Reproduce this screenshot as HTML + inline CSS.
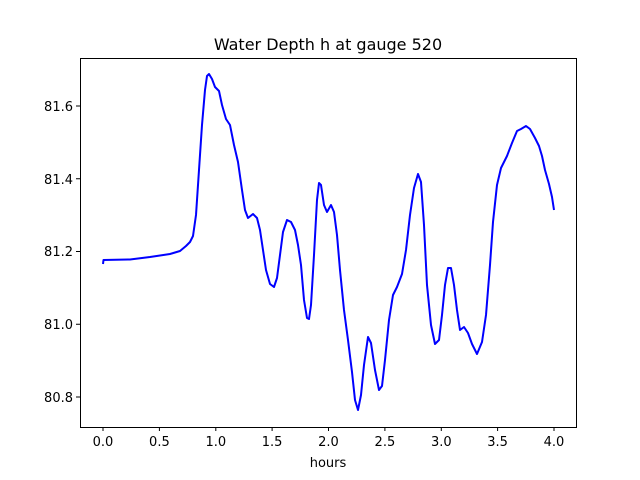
<!DOCTYPE html>
<html><head><meta charset="utf-8"><style>
html,body{margin:0;padding:0;background:#fff;}
svg{display:block;font-family:"DejaVu Sans","Liberation Sans",sans-serif;}
</style></head><body>
<svg width="640" height="480" viewBox="0 0 640 480" xmlns="http://www.w3.org/2000/svg">
<rect width="640" height="480" fill="#fff"/>
<text x="328" y="50" font-size="16" text-anchor="middle">Water Depth h at gauge 520</text>
<polyline fill="none" stroke="#0000ff" stroke-width="2" stroke-linejoin="round" points="103,264 103.5,260 130,259.5 150,257 170,254 180,251 186,246 190,242 193,236 196,215 199,170 202,125 205,90 207,76 209,74 212,79 215,87 219,91 222,105 226,119 230,125 234,145 238,162 242,190 245,210 248,218 253,214 257,218 260,230 263,250 266,270 270,284 274,287 277,278 280,255 283,232 287,220 291,222 295,230 298,245 301,265 304,300 307,318 309,319 311,305 314,255 317,200 319,183 321,185 324,205 327,212 331,205 334,212 337,235 340,270 344,310 348,340 352,372 355,400 358,410 361,395 364,365 368,337 371,343 375,370 379,390 382,386 385,360 389,320 393,295 397,287 402,274 406,250 410,215 414,188 418,174 421,182 424,225 427,285 431,325 435,344 439,340 442,315 445,285 448,268 451,268 454,285 457,310 460,330 464,327 468,333 472,344 477,354 482,342 486,315 490,265 493,222 497,185 501,168 507,156 512,143 517,131 521,129 526,126 530,129 535,138 539,146 542,156 545,170 549,184 552,197 554,210"/>
<rect x="80.5" y="58.5" width="496" height="369" fill="none" stroke="#000" stroke-width="1"/>
<g stroke="#000" stroke-width="1">
<line x1="103" y1="427" x2="103" y2="431"/>
<line x1="159.4" y1="427" x2="159.4" y2="431"/>
<line x1="215.8" y1="427" x2="215.8" y2="431"/>
<line x1="272.1" y1="427" x2="272.1" y2="431"/>
<line x1="328.5" y1="427" x2="328.5" y2="431"/>
<line x1="384.9" y1="427" x2="384.9" y2="431"/>
<line x1="441.3" y1="427" x2="441.3" y2="431"/>
<line x1="497.6" y1="427" x2="497.6" y2="431"/>
<line x1="554" y1="427" x2="554" y2="431"/>
<line x1="76" y1="397" x2="80" y2="397"/>
<line x1="76" y1="324.25" x2="80" y2="324.25"/>
<line x1="76" y1="251.5" x2="80" y2="251.5"/>
<line x1="76" y1="178.75" x2="80" y2="178.75"/>
<line x1="76" y1="106" x2="80" y2="106"/>
</g>
<g font-size="13" text-anchor="middle">
<text x="103" y="446">0.0</text>
<text x="159.4" y="446">0.5</text>
<text x="215.8" y="446">1.0</text>
<text x="272.1" y="446">1.5</text>
<text x="328.5" y="446">2.0</text>
<text x="384.9" y="446">2.5</text>
<text x="441.3" y="446">3.0</text>
<text x="497.6" y="446">3.5</text>
<text x="554" y="446">4.0</text>
<text x="328" y="467">hours</text>
</g>
<g font-size="13" text-anchor="end">
<text x="73" y="402">80.8</text>
<text x="73" y="329">81.0</text>
<text x="73" y="256">81.2</text>
<text x="73" y="184">81.4</text>
<text x="73" y="111">81.6</text>
</g>
</svg>
</body></html>
